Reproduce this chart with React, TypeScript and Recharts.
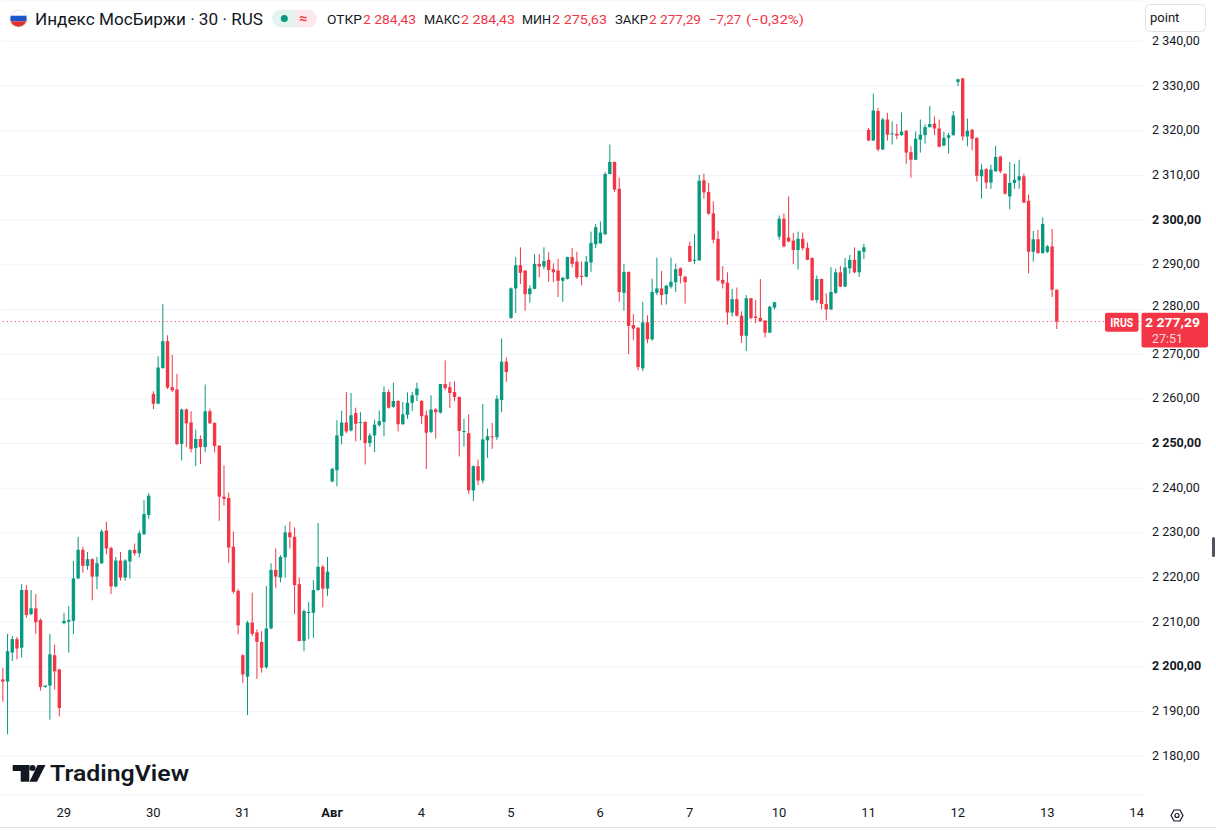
import { ComposedChart, Bar, XAxis, YAxis, CartesianGrid, ReferenceLine } from "recharts";

// 30-minute candles, Jul 28 (tail) .. Aug 13
const opens = [
  2197.2, 2196.7, 2203.2, 2206.2, 2204.3, 2217.2, 2211.8, 2213.1, 2210.5, 2195.5, 2195.8, 2202.6, 2199.4,
  2209.8, 2210.1, 2210.3, 2219.8, 2226.2, 2222.6, 2224.1, 2220.2, 2223.2, 2230.5, 2226.6, 2218.0, 2223.8, 2220.0, 2223.6, 2226.2, 2225.4, 2229.7, 2234.0,
  2261.1, 2258.9, 2266.9, 2272.9, 2262.6, 2262.1, 2249.9, 2257.6, 2254.7, 2249.0, 2251.0, 2249.2, 2257.2, 2254.6, 2249.5, 2238.1, 2237.8, 2226.9, 2217.0,
  2202.6, 2197.8, 2209.9, 2207.7, 2205.6, 2199.9, 2208.6, 2221.7, 2220.0, 2224.5, 2230.1, 2229.1, 2218.5, 2205.8, 2212.1, 2212.1, 2217.2, 2222.4, 2217.5,
  2241.5, 2244.0, 2251.7, 2254.7, 2252.9, 2256.8, 2254.6, 2254.8, 2250.1, 2251.8, 2254.1, 2254.8, 2261.5, 2258.2, 2259.5, 2254.3, 2256.4, 2259.1, 2260.8,
  2259.5, 2256.3, 2252.6, 2257.6, 2256.9, 2263.3, 2262.6, 2261.5, 2260.4, 2252.6, 2252.3, 2239.5, 2244.9, 2241.7, 2250.7, 2251.6, 2251.4, 2259.7, 2268.3,
  2278.1, 2284.7, 2289.9, 2288.7, 2283.4, 2284.6, 2290.2, 2289.6, 2291.1, 2289.0, 2288.7, 2286.4, 2286.8, 2291.7, 2290.7, 2287.5, 2287.3, 2290.5, 2294.6,
  2294.8, 2296.8, 2310.3, 2313.0, 2307.0, 2283.7, 2288.4, 2276.5, 2275.9, 2266.8, 2277.1, 2273.3, 2283.7, 2284.7, 2283.4, 2285.1, 2286.1, 2289.2, 2287.3,
  2294.2, 2290.9, 2291.0, 2308.9, 2306.3, 2301.5, 2295.8, 2286.6, 2286.0, 2279.3, 2282.3, 2278.6, 2274.1, 2282.5, 2278.4, 2278.1, 2277.5, 2274.8, 2280.4,
  2296.3, 2300.3, 2296.1, 2295.4, 2293.3, 2295.8, 2293.8, 2291.5, 2282.1, 2286.8, 2281.2, 2280.0, 2283.7, 2288.3, 2285.1, 2289.2, 2291.1, 2288.3, 2292.9,
  2320.2, 2317.8, 2324.4, 2315.8, 2322.5, 2319.2, 2319.3, 2319.0, 2320.0, 2315.2, 2313.5, 2318.0, 2319.0, 2320.8, 2321.6, 2320.5, 2316.7, 2318.4, 2319.0,
  2330.9, 2331.7, 2318.7, 2320.2, 2318.4, 2309.8, 2311.4, 2308.4, 2310.9, 2314.2, 2310.3, 2305.3, 2308.3, 2308.9, 2309.8, 2304.3, 2292.9, 2295.7, 2292.6,
  2292.9, 2294.1, 2284.43,
];
const highs = [
  2199.8, 2207.4, 2206.9, 2206.7, 2218.5, 2218.3, 2217.2, 2216.3, 2210.8, 2195.8, 2207.4, 2205.0, 2199.6,
  2212.1, 2213.6, 2223.7, 2229.1, 2226.9, 2225.7, 2224.3, 2224.6, 2230.8, 2232.5, 2226.9, 2224.6, 2225.7, 2224.1, 2226.3, 2227.6, 2230.5, 2237.3, 2238.9,
  2261.7, 2269.5, 2281.2, 2274.2, 2269.8, 2265.6, 2257.8, 2257.8, 2257.2, 2253.1, 2251.8, 2263.2, 2257.8, 2254.7, 2249.6, 2245.1, 2239.0, 2230.3, 2217.4,
  2202.8, 2210.3, 2216.6, 2208.4, 2208.0, 2218.1, 2223.2, 2226.5, 2225.0, 2231.6, 2232.5, 2231.2, 2220.0, 2212.9, 2214.5, 2219.4, 2232.2, 2222.8, 2224.6,
  2244.6, 2255.2, 2257.3, 2261.5, 2261.3, 2258.0, 2257.0, 2255.0, 2252.3, 2255.3, 2257.4, 2262.8, 2262.1, 2263.6, 2259.7, 2259.3, 2261.4, 2261.5, 2263.6,
  2259.7, 2257.4, 2260.8, 2257.9, 2263.3, 2268.6, 2263.8, 2263.9, 2260.5, 2255.5, 2256.5, 2245.1, 2246.4, 2258.8, 2253.3, 2254.6, 2260.8, 2273.5, 2269.2,
  2284.9, 2291.7, 2293.9, 2288.8, 2285.4, 2292.4, 2292.4, 2293.9, 2292.8, 2290.3, 2291.3, 2287.3, 2291.8, 2293.7, 2292.9, 2290.7, 2292.0, 2297.4, 2299.1,
  2299.7, 2310.7, 2316.9, 2313.1, 2309.5, 2290.2, 2288.5, 2278.9, 2276.0, 2281.7, 2278.7, 2286.9, 2291.6, 2288.6, 2285.5, 2291.6, 2290.3, 2289.4, 2287.5,
  2295.2, 2296.9, 2310.1, 2310.4, 2308.3, 2304.2, 2297.6, 2289.7, 2288.3, 2284.6, 2284.9, 2279.6, 2283.2, 2282.6, 2282.1, 2286.8, 2277.6, 2280.8, 2281.7,
  2301.0, 2301.5, 2305.3, 2297.1, 2297.4, 2297.2, 2295.0, 2291.7, 2287.6, 2286.9, 2283.6, 2289.5, 2289.1, 2289.7, 2291.5, 2292.2, 2293.9, 2293.2, 2294.7,
  2320.6, 2328.3, 2325.1, 2322.9, 2324.0, 2322.1, 2321.5, 2324.1, 2320.1, 2316.5, 2319.8, 2322.5, 2321.4, 2325.5, 2323.2, 2322.5, 2319.8, 2319.5, 2324.4,
  2331.6, 2331.8, 2322.7, 2320.4, 2318.5, 2312.6, 2311.6, 2312.4, 2316.6, 2314.4, 2310.5, 2313.0, 2312.6, 2313.5, 2310.4, 2305.7, 2297.6, 2297.8, 2300.6,
  2294.4, 2298.0, 2284.43,
];
const lows = [
  2192.2, 2184.9, 2201.3, 2201.7, 2202.1, 2211.0, 2211.6, 2207.4, 2194.7, 2195.3, 2188.2, 2194.9, 2188.9,
  2209.5, 2203.2, 2207.3, 2219.6, 2221.1, 2221.7, 2214.9, 2217.4, 2223.0, 2225.2, 2216.3, 2217.8, 2219.3, 2219.3, 2219.8, 2224.9, 2224.5, 2229.5, 2233.1,
  2257.7, 2258.8, 2266.7, 2262.2, 2261.5, 2249.6, 2246.2, 2249.2, 2248.0, 2244.9, 2245.4, 2248.0, 2254.4, 2248.0, 2232.7, 2236.1, 2223.3, 2216.4, 2207.3,
  2196.4, 2189.2, 2206.9, 2197.3, 2198.7, 2199.6, 2208.4, 2217.6, 2218.9, 2220.0, 2226.5, 2211.8, 2205.7, 2203.5, 2206.2, 2206.5, 2217.0, 2213.3, 2215.9,
  2241.3, 2240.4, 2249.8, 2252.3, 2252.7, 2250.5, 2250.7, 2245.3, 2249.2, 2248.1, 2253.7, 2251.6, 2257.8, 2258.0, 2252.7, 2254.2, 2255.5, 2257.3, 2259.5,
  2254.3, 2244.3, 2252.3, 2251.1, 2256.7, 2261.9, 2257.9, 2259.5, 2247.1, 2249.3, 2238.7, 2237.1, 2240.7, 2241.1, 2246.8, 2248.8, 2250.8, 2257.0, 2263.8,
  2277.9, 2279.2, 2285.7, 2279.7, 2281.5, 2284.5, 2287.2, 2289.0, 2286.2, 2286.1, 2282.8, 2281.7, 2286.7, 2289.4, 2286.8, 2285.4, 2287.2, 2288.4, 2293.7,
  2294.7, 2296.7, 2310.2, 2306.3, 2281.7, 2279.7, 2270.0, 2273.1, 2266.4, 2266.2, 2272.4, 2273.0, 2283.2, 2281.0, 2281.1, 2284.7, 2283.9, 2285.8, 2281.3,
  2290.6, 2290.2, 2290.9, 2304.8, 2301.2, 2294.8, 2286.2, 2284.7, 2276.6, 2278.4, 2278.4, 2272.5, 2270.7, 2277.8, 2276.9, 2277.2, 2273.7, 2274.7, 2280.0,
  2295.6, 2293.9, 2295.0, 2290.2, 2288.9, 2293.2, 2291.0, 2281.9, 2281.4, 2280.0, 2277.6, 2279.9, 2283.5, 2285.0, 2285.0, 2288.0, 2288.1, 2287.3, 2291.3,
  2317.7, 2317.7, 2315.4, 2315.7, 2317.8, 2316.9, 2318.1, 2318.9, 2312.6, 2309.5, 2313.4, 2315.1, 2317.1, 2320.7, 2319.0, 2316.3, 2316.5, 2314.9, 2318.9,
  2330.0, 2317.8, 2316.5, 2315.6, 2308.6, 2304.8, 2307.0, 2307.0, 2310.8, 2310.5, 2305.7, 2302.4, 2307.0, 2307.0, 2303.8, 2288.1, 2290.7, 2292.5, 2292.5,
  2292.6, 2282.8, 2275.63,
];
const closes = [
  2196.7, 2203.5, 2206.2, 2204.1, 2217.2, 2211.6, 2213.1, 2210.0, 2195.5, 2195.8, 2202.8, 2199.0, 2190.8,
  2210.3, 2210.5, 2219.8, 2226.2, 2222.6, 2224.1, 2220.2, 2223.2, 2230.3, 2226.5, 2218.0, 2223.8, 2220.0, 2223.8, 2226.1, 2225.4, 2229.9, 2234.2, 2238.3,
  2258.9, 2267.0, 2272.9, 2262.5, 2261.9, 2249.9, 2257.6, 2254.5, 2248.8, 2251.0, 2249.2, 2257.2, 2254.5, 2249.4, 2238.1, 2237.6, 2226.7, 2216.8, 2209.3,
  2198.3, 2209.9, 2207.4, 2205.6, 2199.8, 2208.6, 2221.7, 2220.2, 2224.6, 2230.1, 2229.0, 2218.3, 2205.8, 2212.5, 2212.3, 2217.2, 2222.4, 2217.5, 2221.3,
  2244.3, 2251.8, 2254.7, 2252.7, 2256.3, 2254.4, 2254.8, 2250.1, 2251.8, 2254.2, 2255.0, 2261.5, 2258.0, 2259.5, 2254.3, 2256.5, 2259.1, 2260.8, 2262.3,
  2256.1, 2252.4, 2257.6, 2257.0, 2263.3, 2262.4, 2261.3, 2260.4, 2252.8, 2252.8, 2239.5, 2244.9, 2241.7, 2250.9, 2251.6, 2251.4, 2260.0, 2268.3, 2266.0,
  2284.7, 2289.9, 2288.2, 2283.4, 2284.7, 2290.2, 2289.6, 2290.8, 2288.8, 2288.3, 2286.4, 2287.1, 2291.7, 2290.2, 2287.2, 2287.3, 2290.7, 2294.9, 2298.4,
  2297.2, 2310.3, 2313.0, 2306.8, 2283.9, 2288.4, 2276.3, 2275.7, 2267.1, 2277.1, 2273.3, 2283.9, 2284.7, 2283.2, 2285.3, 2286.2, 2289.0, 2287.5, 2286.1,
  2290.7, 2291.1, 2308.8, 2306.2, 2301.4, 2295.6, 2286.5, 2285.8, 2279.3, 2282.3, 2278.6, 2274.1, 2282.5, 2278.1, 2278.1, 2277.4, 2274.8, 2280.6, 2281.6,
  2300.3, 2294.1, 2295.2, 2293.3, 2295.8, 2293.7, 2291.1, 2282.1, 2286.8, 2281.2, 2280.0, 2283.9, 2288.3, 2285.1, 2289.4, 2291.1, 2288.3, 2293.1, 2293.9,
  2317.8, 2324.5, 2315.8, 2322.5, 2319.1, 2319.4, 2318.9, 2319.8, 2315.1, 2313.5, 2318.2, 2319.1, 2320.8, 2321.5, 2320.5, 2316.4, 2318.4, 2319.0, 2323.4,
  2331.5, 2318.7, 2320.0, 2318.2, 2309.9, 2311.3, 2308.4, 2311.3, 2314.1, 2310.9, 2305.9, 2308.3, 2309.0, 2309.8, 2303.9, 2292.9, 2295.7, 2292.6, 2299.1,
  2294.1, 2284.4, 2277.29,
];

// first bar of each trading day and its label on the time scale
const dayStarts = [13, 32, 51, 70, 89, 108, 127, 146, 165, 184, 203, 222, 241];
const dayLabels = ["29", "30", "31", "Авг", "4", "5", "6", "7", "10", "11", "12", "13", "14"];

const priceTicks = [2180, 2190, 2200, 2210, 2220, 2230, 2240, 2250, 2260, 2270, 2280, 2290, 2300, 2310, 2320, 2330, 2340];
const lastPrice = 2277.29;
const TOTAL_SLOTS = 243; // includes empty space to the right of the last bar

const UP = "#089981";
const DOWN = "#F23645";
const TEXT = "#131722";
const FONT = "Roboto, 'Noto Sans', sans-serif";

const data = Array.from({ length: TOTAL_SLOTS }, (_, i) => ({
  i,
  o: opens[i],
  h: highs[i],
  l: lows[i],
  c: closes[i],
}));

const fmt = (v: number) => {
  const [int, dec] = v.toFixed(2).split(".");
  return int.replace(/\B(?=(\d{3})+(?!\d))/g, " ") + "," + dec;
};

const Candle = (props: any) => {
  const { x, y, width, height, payload } = props;
  if (!payload || payload.o == null) return null;
  const { o, h, l, c } = payload;
  const top = Math.min(y, y + height);
  const bot = Math.max(y, y + height);
  const range = h - l;
  const py = (v: number) => (range === 0 ? top : top + ((h - v) / range) * (bot - top));
  const cx = x + width / 2;
  const color = c >= o ? UP : DOWN;
  const bTop = py(Math.max(o, c));
  const bH = Math.max(1, py(Math.min(o, c)) - bTop);
  return (
    <g>
      <rect x={cx - 0.5} y={top} width={1} height={Math.max(1, bot - top)} fill={color} />
      <rect x={cx - 1.7} y={bTop} width={3.4} height={bH} fill={color} />
    </g>
  );
};

const DateTick = (props: any) => {
  const { x, payload } = props;
  const label = dayLabels[dayStarts.indexOf(payload.value)];
  if (!label) return null;
  return (
    <text x={x} y={817} textAnchor="middle" fontSize={13} fontFamily={FONT} fill={TEXT} fontWeight={label === "Авг" ? 700 : 400}>
      {label}
    </text>
  );
};

const PriceTick = (props: any) => {
  const { y, payload } = props;
  const v = payload.value;
  // the label just above the live price tag is nudged up, as on the original
  const dy = Math.abs(v - lastPrice) < 5 ? 0.5 : 3.5;
  return (
    <text x={1152} y={y} dy={dy} fontSize={12.5} fontFamily={FONT} fill={TEXT} fontWeight={v % 50 === 0 ? 700 : 400}>
      {fmt(v)}
    </text>
  );
};

const PriceTag = (props: any) => {
  const vb = props.viewBox || {};
  const y = (vb.y || 0) + (vb.height || 0) / 2;
  return (
    <g fontFamily={FONT}>
      <rect x={1105} y={y - 8.7} width={33.5} height={19} rx={2} fill={DOWN} />
      <text x={1121.7} y={y + 5} textAnchor="middle" fontSize={12} fontWeight={700} fill="#fff" textLength={23} lengthAdjust="spacingAndGlyphs">
        IRUS
      </text>
      <rect x={1141.5} y={y - 8.7} width={66.5} height={34.7} rx={2} fill={DOWN} />
      <text x={1145} y={y + 5.5} fontSize={13} fontWeight={700} fill="#fff" textLength={55} lengthAdjust="spacingAndGlyphs">
        {fmt(lastPrice)}
      </text>
      <text x={1152} y={y + 21.5} fontSize={13} fill="rgba(255,255,255,0.82)" textLength={31} lengthAdjust="spacingAndGlyphs">
        27:51
      </text>
    </g>
  );
};

const Header = () => (
  <svg width={1216} height={40} style={{ position: "absolute", left: 0, top: 0 }} fontFamily={FONT}>
    <defs>
      <clipPath id="flag">
        <circle cx={18.5} cy={18.5} r={8.5} />
      </clipPath>
      <clipPath id="pill">
        <rect x={272} y={9.5} width={45} height={18} rx={9} />
      </clipPath>
    </defs>
    <g clipPath="url(#flag)">
      <rect x={9} y={9} width={20} height={6.7} fill="#ffffff" />
      <rect x={9} y={15.7} width={20} height={5.6} fill="#1c57c9" />
      <rect x={9} y={21.3} width={20} height={7} fill="#e03131" />
    </g>
    <circle cx={18.5} cy={18.5} r={8.5} fill="none" stroke="#d1d4dc" strokeWidth={0.6} />
    <text x={35} y={24.5} fontSize={16.5} fill={TEXT} textLength={228} lengthAdjust="spacingAndGlyphs">
      Индекс МосБиржи · 30 · RUS
    </text>
    <g clipPath="url(#pill)">
      <rect x={272} y={9.5} width={23} height={18} fill="#e3f4f0" />
      <rect x={295} y={9.5} width={22} height={18} fill="#fde8eb" />
    </g>
    <circle cx={284.3} cy={18.5} r={3.5} fill={UP} />
    <text x={303.5} y={23} textAnchor="middle" fontSize={14} fontWeight={700} fill={DOWN}>≈</text>
    <g fontSize={13}>
      <text x={327} y={23.5} fill={TEXT} textLength={35} lengthAdjust="spacingAndGlyphs">ОТКР</text>
      <text x={363} y={23.5} fill={DOWN} textLength={53} lengthAdjust="spacingAndGlyphs">{fmt(opens[224])}</text>
      <text x={424} y={23.5} fill={TEXT} textLength={36} lengthAdjust="spacingAndGlyphs">МАКС</text>
      <text x={461} y={23.5} fill={DOWN} textLength={54} lengthAdjust="spacingAndGlyphs">{fmt(highs[224])}</text>
      <text x={522} y={23.5} fill={TEXT} textLength={29} lengthAdjust="spacingAndGlyphs">МИН</text>
      <text x={552} y={23.5} fill={DOWN} textLength={55} lengthAdjust="spacingAndGlyphs">{fmt(lows[224])}</text>
      <text x={615} y={23.5} fill={TEXT} textLength={33} lengthAdjust="spacingAndGlyphs">ЗАКР</text>
      <text x={649} y={23.5} fill={DOWN} textLength={52} lengthAdjust="spacingAndGlyphs">{fmt(closes[224])}</text>
      <text x={709} y={23.5} fill={DOWN} textLength={32} lengthAdjust="spacingAndGlyphs">−7,27</text>
      <text x={746} y={23.5} fill={DOWN} textLength={58} lengthAdjust="spacingAndGlyphs">(−0,32%)</text>
    </g>
    <rect x={1145.5} y={4.5} width={60} height={27} rx={4} fill="#fff" stroke="#e0e3eb" />
    <text x={1150} y={22} fontSize={13} fill={TEXT}>point</text>
  </svg>
);

const Decorations = () => (
  <svg width={1216} height={831} style={{ position: "absolute", left: 0, top: 0, pointerEvents: "none" }} fontFamily={FONT}>
    {/* TradingView watermark */}
    <g fill={TEXT}>
      <rect x={12.7} y={765} width={16.6} height={6} />
      <rect x={20.7} y={765} width={8.6} height={16.7} />
      <circle cx={32.5} cy={768} r={3} />
      <polygon points="37.5,765 45.5,765 37,781.7 29.5,781.7" />
      <text x={50} y={781} fontSize={22} fontWeight={600} textLength={139} lengthAdjust="spacingAndGlyphs">
        TradingView
      </text>
    </g>
    {/* settings eye */}
    <polygon points="1171,815.5 1174,810 1180,810 1183,815.5 1180,821 1174,821" fill="none" stroke={TEXT} strokeWidth={1.2} />
    <circle cx={1177} cy={815.5} r={2} fill="none" stroke={TEXT} strokeWidth={1.2} />
    <line x1={0} y1={827.5} x2={1216} y2={827.5} stroke="#e0e3eb" />
    <rect x={1212} y={537} width={3} height={20} rx={1.5} fill="#50535e" />
  </svg>
);

export default function App() {
  return (
    <div style={{ position: "relative", width: 1216, height: 831, background: "#fff", overflow: "hidden" }}>
      <style>{"body{margin:0}"}</style>
      <ComposedChart width={1216} height={831} data={data} margin={{ top: 0, right: 0, bottom: 0, left: 0.35 }} barCategoryGap={0}>
        <CartesianGrid vertical={false} stroke="#f0f3fa" />
        <XAxis
          dataKey="i"
          type="category"
          ticks={dayStarts}
          interval={0}
          height={36}
          axisLine={false}
          tickLine={false}
          tick={<DateTick />}
        />
        <YAxis
          orientation="right"
          type="number"
          domain={[2171.32, 2349.25]}
          allowDataOverflow
          ticks={priceTicks}
          width={72.3}
          axisLine={false}
          tickLine={false}
          tick={<PriceTick />}
        />
        <Bar
          dataKey={(d: any) => (d.h == null ? null : [d.l, d.h])}
          shape={<Candle />}
          isAnimationActive={false}
        />
        <ReferenceLine y={lastPrice} stroke={DOWN} strokeDasharray="1 3" label={<PriceTag />} />
      </ComposedChart>
      <Header />
      <Decorations />
    </div>
  );
}
